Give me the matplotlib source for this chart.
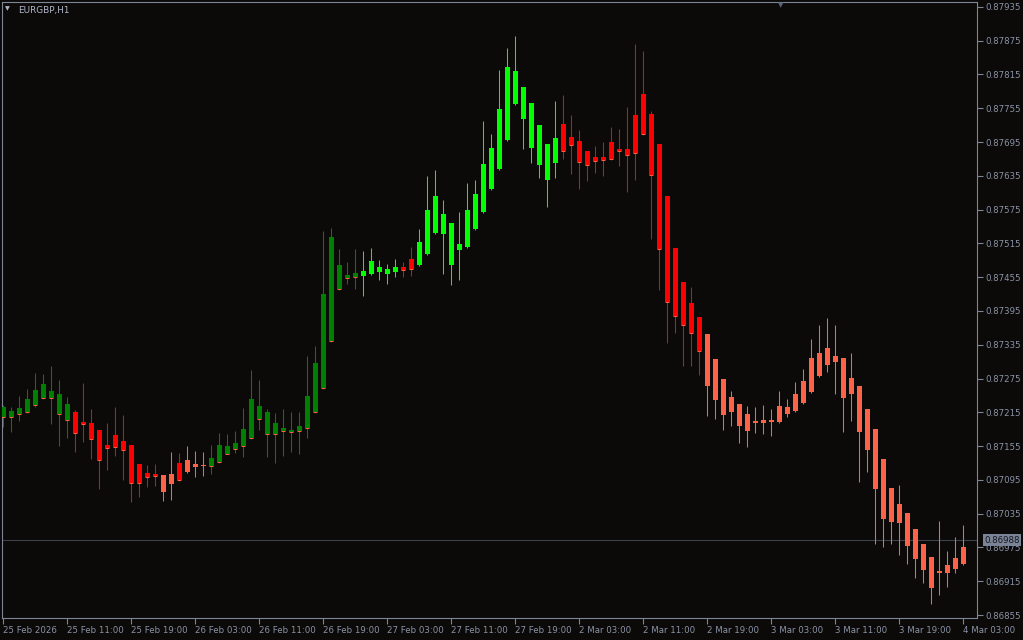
import matplotlib
matplotlib.use('Agg')
import matplotlib.pyplot as plt
import numpy as np
import pandas as pd

symbol = 'EURGBP,H1'
last_price = 0.86988

# Heiken Ashi candles (H1, 25 Feb 03:00 .. 4 Mar 03:00)
ha_open = [
    0.87207, 0.87217, 0.87212, 0.87216, 0.87228, 0.87240, 0.87253, 0.87247, 0.87230, 0.87216,
    0.87198, 0.87196, 0.87184, 0.87157, 0.87153, 0.87164, 0.87157, 0.87123, 0.87107, 0.87105,
    0.87104, 0.87088, 0.87095, 0.87109, 0.87118, 0.87120, 0.87120, 0.87127, 0.87141, 0.87150,
    0.87155, 0.87169, 0.87203, 0.87216, 0.87196, 0.87187, 0.87184, 0.87182, 0.87187, 0.87216,
    0.87258, 0.87342, 0.87434, 0.87454, 0.87455, 0.87457, 0.87461, 0.87473, 0.87470, 0.87464,
    0.87468, 0.87470, 0.87477, 0.87496, 0.87533, 0.87567, 0.87551, 0.87514, 0.87509, 0.87541,
    0.87571, 0.87612, 0.87647, 0.87699, 0.87763, 0.87793, 0.87764, 0.87725, 0.87692, 0.87658,
    0.87679, 0.87704, 0.87697, 0.87679, 0.87668, 0.87663, 0.87665, 0.87679, 0.87683, 0.87676,
    0.87709, 0.87745, 0.87692, 0.87599, 0.87507, 0.87446, 0.87409, 0.87384, 0.87354, 0.87310,
    0.87274, 0.87242, 0.87230, 0.87212, 0.87200, 0.87196, 0.87198, 0.87198, 0.87212, 0.87217,
    0.87232, 0.87251, 0.87280, 0.87299, 0.87315, 0.87311, 0.87276, 0.87262, 0.87221, 0.87185,
    0.87132, 0.87081, 0.87052, 0.87036, 0.87008, 0.86981, 0.86958, 0.86933, 0.86930, 0.86937,
    0.86946,
]
ha_close = [
    0.87224, 0.87207, 0.87223, 0.87239, 0.87255, 0.87265, 0.87240, 0.87212, 0.87201, 0.87178,
    0.87194, 0.87168, 0.87130, 0.87152, 0.87175, 0.87148, 0.87089, 0.87089, 0.87100, 0.87102,
    0.87073, 0.87105, 0.87125, 0.87130, 0.87123, 0.87121, 0.87134, 0.87157, 0.87155, 0.87160,
    0.87185, 0.87239, 0.87226, 0.87176, 0.87176, 0.87182, 0.87180, 0.87191, 0.87244, 0.87303,
    0.87425, 0.87526, 0.87477, 0.87459, 0.87462, 0.87466, 0.87484, 0.87464, 0.87461, 0.87473,
    0.87473, 0.87487, 0.87517, 0.87574, 0.87599, 0.87532, 0.87477, 0.87503, 0.87574, 0.87603,
    0.87656, 0.87684, 0.87754, 0.87828, 0.87821, 0.87736, 0.87684, 0.87654, 0.87628, 0.87702,
    0.87727, 0.87690, 0.87660, 0.87654, 0.87661, 0.87668, 0.87695, 0.87683, 0.87672, 0.87743,
    0.87780, 0.87636, 0.87505, 0.87411, 0.87386, 0.87370, 0.87356, 0.87324, 0.87262, 0.87237,
    0.87210, 0.87216, 0.87191, 0.87182, 0.87196, 0.87201, 0.87201, 0.87226, 0.87224, 0.87247,
    0.87271, 0.87311, 0.87320, 0.87329, 0.87304, 0.87240, 0.87248, 0.87180, 0.87148, 0.87079,
    0.87025, 0.87020, 0.87018, 0.86978, 0.86954, 0.86935, 0.86903, 0.86930, 0.86944, 0.86956,
    0.86976,
]
ha_high = [
    0.87228, 0.87224, 0.87244, 0.87256, 0.87285, 0.87283, 0.87297, 0.87272, 0.87242, 0.87219,
    0.87267, 0.87221, 0.87184, 0.87196, 0.87224, 0.87210, 0.87157, 0.87123, 0.87121, 0.87123,
    0.87104, 0.87144, 0.87143, 0.87155, 0.87146, 0.87144, 0.87157, 0.87178, 0.87176, 0.87182,
    0.87223, 0.87290, 0.87272, 0.87221, 0.87214, 0.87221, 0.87216, 0.87216, 0.87315, 0.87333,
    0.87537, 0.87542, 0.87505, 0.87482, 0.87505, 0.87502, 0.87507, 0.87486, 0.87478, 0.87487,
    0.87482, 0.87509, 0.87541, 0.87635, 0.87645, 0.87592, 0.87551, 0.87571, 0.87622, 0.87628,
    0.87732, 0.87709, 0.87823, 0.87862, 0.87883, 0.87793, 0.87764, 0.87725, 0.87692, 0.87768,
    0.87779, 0.87743, 0.87716, 0.87679, 0.87688, 0.87695, 0.87722, 0.87718, 0.87757, 0.87869,
    0.87857, 0.87750, 0.87692, 0.87599, 0.87507, 0.87446, 0.87438, 0.87384, 0.87354, 0.87310,
    0.87274, 0.87253, 0.87230, 0.87226, 0.87224, 0.87228, 0.87221, 0.87253, 0.87239, 0.87269,
    0.87292, 0.87345, 0.87370, 0.87383, 0.87370, 0.87311, 0.87320, 0.87262, 0.87221, 0.87185,
    0.87132, 0.87081, 0.87086, 0.87036, 0.87008, 0.86981, 0.86958, 0.87022, 0.86969, 0.86994,
    0.87015,
]
ha_low = [
    0.87189, 0.87180, 0.87200, 0.87214, 0.87224, 0.87239, 0.87194, 0.87155, 0.87169, 0.87144,
    0.87162, 0.87132, 0.87079, 0.87113, 0.87137, 0.87095, 0.87056, 0.87065, 0.87082, 0.87084,
    0.87057, 0.87059, 0.87093, 0.87107, 0.87100, 0.87102, 0.87105, 0.87125, 0.87141, 0.87143,
    0.87136, 0.87168, 0.87184, 0.87136, 0.87125, 0.87137, 0.87144, 0.87141, 0.87169, 0.87214,
    0.87256, 0.87340, 0.87432, 0.87443, 0.87434, 0.87422, 0.87459, 0.87450, 0.87443, 0.87455,
    0.87455, 0.87457, 0.87475, 0.87494, 0.87532, 0.87461, 0.87441, 0.87450, 0.87507, 0.87539,
    0.87569, 0.87610, 0.87645, 0.87697, 0.87761, 0.87683, 0.87658, 0.87631, 0.87580, 0.87631,
    0.87665, 0.87638, 0.87612, 0.87626, 0.87640, 0.87635, 0.87663, 0.87652, 0.87606, 0.87628,
    0.87707, 0.87523, 0.87432, 0.87338, 0.87356, 0.87297, 0.87297, 0.87281, 0.87208, 0.87203,
    0.87184, 0.87191, 0.87160, 0.87153, 0.87178, 0.87176, 0.87173, 0.87196, 0.87207, 0.87216,
    0.87230, 0.87249, 0.87278, 0.87287, 0.87248, 0.87180, 0.87200, 0.87091, 0.87109, 0.86981,
    0.86976, 0.86981, 0.86962, 0.86946, 0.86921, 0.86912, 0.86875, 0.86891, 0.86905, 0.86930,
    0.86944,
]
# colour state of each candle: g = weak up, l = strong up, r = strong down, t = weak down
trend = ("gggggggggr" "rrrrrrrrrr" "ttrtttgggg" "gggggggggg" "ggggglllll"
         "rrllllllll" "llllllllll" "rrrrrrrrrr" "rrrrrrrrtt" "tttttttttt"
         "tttttttttt" "tttttttttt" "t")

BG = '#0c0a08'
FG = '#8a93a8'
FRAME = '#7d8599'
palette = {'g': '#008000', 'l': '#00ff00', 'r': '#ff0000', 't': '#ff6347'}

n = len(ha_open)
times = pd.date_range('2026-02-25 03:00', '2026-02-27 23:00', freq='h')
times = times.append(pd.date_range('2026-03-02 00:00', periods=n - len(times), freq='h'))

x = np.arange(n)
o = np.array(ha_open)
c = np.array(ha_close)
top = np.maximum(o, c)
bot = np.minimum(o, c)
cols = [palette[k] for k in trend]

fig = plt.figure(figsize=(10.23, 6.4), dpi=100, facecolor=BG)
ax = fig.add_axes([2 / 1023, 22 / 640, 975 / 1023, 616 / 640])
ax.set_facecolor(BG)

ax.axhline(last_price, color='#3c404c', lw=0.8, zorder=1)

ax.vlines(x, ha_low, ha_high, colors=cols, linewidth=0.75, zorder=2)
ax.bar(x, np.maximum(top - bot, 0.000018), bottom=bot, width=0.625,
       color=cols, linewidth=0, antialiased=False, zorder=3)
# thin line along the lower edge of the body
edge = [i for i in range(n) if trend[i] in 'gr']
ax.hlines(bot[edge], x[edge] - 0.31, x[edge] + 0.31, colors='#ff6347', linewidth=0.7, zorder=4)

ax.set_xlim(-0.125, 121.75)
ax.set_ylim(0.868497, 0.879437)

ax.yaxis.tick_right()
yt = np.arange(0.86855, 0.87940, 0.0006)
ax.set_yticks(yt)
ax.set_yticklabels([f'{v:.5f}' for v in yt])

xt = x[::8]
xl = []
for k, i in enumerate(xt):
    t = times[i]
    if k == 0:
        xl.append(f'{t.day} {t:%b %Y}')
    else:
        xl.append(f'{t.day} {t:%b %H:%M}')
ax.set_xticks(xt)
ax.set_xticklabels(xl, ha='left')

ax.tick_params(axis='both', colors=FRAME, labelcolor=FG, labelsize=6.2,
               length=4, width=0.8, direction='out', pad=2)
for s in ax.spines.values():
    s.set_color(FRAME)
    s.set_linewidth(0.8)

ax.annotate(f'{last_price:.5f}', xy=(1.0, last_price), xycoords=('axes fraction', 'data'),
            xytext=(5, 0), textcoords='offset points', va='center', ha='left',
            fontsize=6.2, color='#12161e',
            bbox=dict(boxstyle='square,pad=0.15', fc='#7b8396', ec='none'))

fig.text(18 / 1023, 1 - 10 / 640, symbol, va='center', ha='left', fontsize=6.4, color='#b0b8c8')
fig.text(5 / 1023, 1 - 9 / 640, '\u25bc', va='center', ha='left', fontsize=4.5, color='#b0b8c8')
fig.text(781 / 1023, 1 - 5 / 640, '\u25bc', va='center', ha='center', fontsize=5, color='#5a6278')

fig.savefig('out.png', dpi=100, facecolor=BG)
